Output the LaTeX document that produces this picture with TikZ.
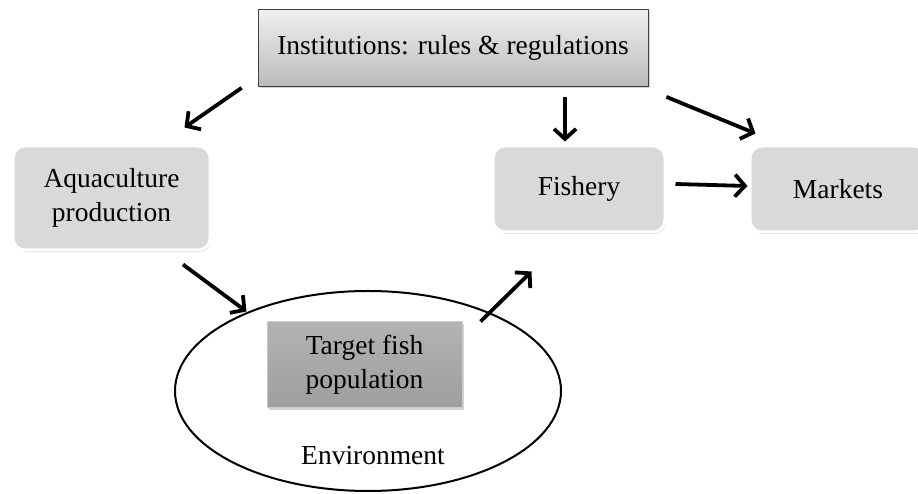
\documentclass[tikz,border=0pt]{standalone}
\usepackage{fontspec}
\setmainfont{Liberation Serif}
\usetikzlibrary{arrows.meta,shadows,shapes.geometric}

\tikzset{
          txt/.style = {font=\fontsize{27.5}{34}\selectfont, align=center, text=black},
          rulebox/.style = {rectangle, txt, draw=black!75, line width=0.8pt, top color=black!6, bottom color=black!27,
                            minimum width=390pt, minimum height=77pt,
                            drop shadow={shadow xshift=1.5pt, shadow yshift=-2pt, opacity=0.35}},
          softbox/.style = {rectangle, txt, rounded corners=12pt, draw=white, line width=3pt, fill=black!15,
                            minimum width=#1, minimum height=86pt,
                            drop shadow={shadow xshift=1pt, shadow yshift=-2pt, opacity=0.3}},
          fishbox/.style = {rectangle, txt, draw=black!20, line width=1pt, top color=black!30, bottom color=black!38,
                            minimum width=195pt, minimum height=86pt,
                            drop shadow={shadow xshift=1.5pt, shadow yshift=-2pt, opacity=0.35}},
          arr/.style = {line width=3.8pt, -{Straight Barb[length=10pt, width=22pt]}}
        }

\begin{document}
\begin{tikzpicture}[x=1pt,y=1pt]
          \useasboundingbox (0,0) rectangle (918,494);

          \node[ellipse, draw, line width=2pt, fill=white, minimum width=386pt, minimum height=200pt] (env) at (368,103) {};
          \node[txt] (envlabel) at (373,38) {Environment};

          \node[rulebox] (inst) at (453,446) {Institutions: rules \& regulations};
          \node[softbox=197pt, minimum height=104pt] (aqua) at (111.5,296) {Aquaculture\\production};
          \node[softbox=172pt] (fish) at (579,305) {Fishery};
          \node[softbox=176pt] (mark) at (838,305) {Markets};
          \node[fishbox] (target) at (364.5,129) {Target fish\\population};

          % arrows float between the boxes
          \draw[arr] ([xshift=-16pt,yshift=-1pt]inst.south west) -- ([xshift=-27pt,yshift=17pt]aqua.north east);
          \draw[arr] ([xshift=112pt,yshift=-10pt]inst.south) -- ([xshift=-14pt,yshift=3pt]fish.north);
          \draw[arr] ([xshift=18pt,yshift=-10pt]inst.south east) -- ([xshift=7pt,yshift=11pt]mark.north west);
          \draw[arr] ([xshift=9pt,yshift=5pt]fish.east) -- ([xshift=-1pt,yshift=3pt]mark.west);
          \draw[arr] ([xshift=71.5pt,yshift=-13pt]aqua.south) -- ([xshift=-20pt,yshift=10pt]target.north west);
          \draw[arr] ([xshift=18pt]target.north east) -- ([xshift=40pt,yshift=-38pt]fish.south west);
        \end{tikzpicture}
\end{document}
